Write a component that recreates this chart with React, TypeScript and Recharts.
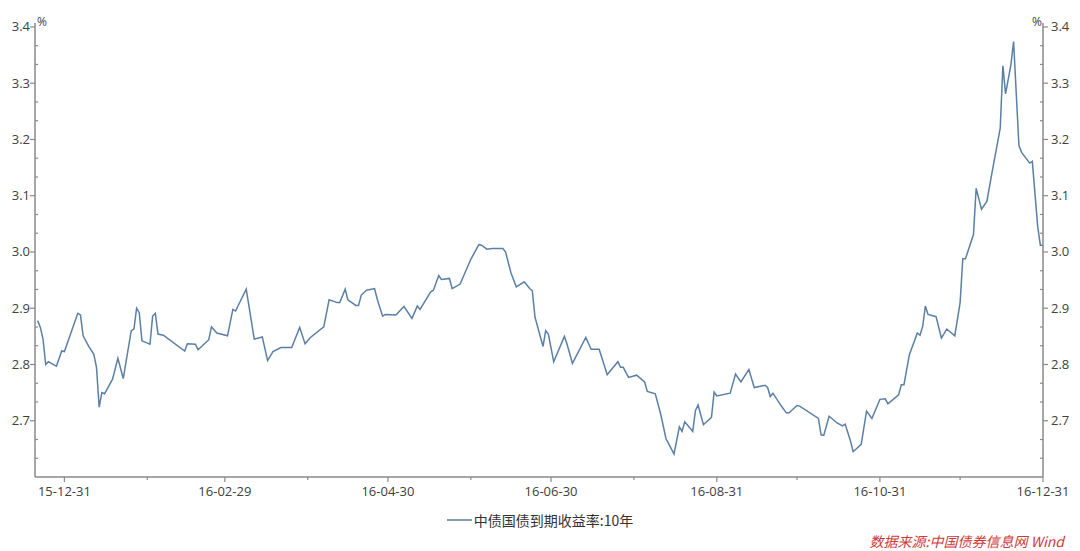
import { LineChart, Line, XAxis, YAxis, Legend } from 'recharts'

// 10Y China government bond yield (trading days, 2015-12-21 .. 2016-12-31)
const dates = [
  '2015-12-21', '2015-12-22', '2015-12-23', '2015-12-24', '2015-12-25', '2015-12-28', '2015-12-30', '2015-12-31',
  '2016-01-05', '2016-01-06', '2016-01-07', '2016-01-09', '2016-01-11', '2016-01-12', '2016-01-13', '2016-01-14',
  '2016-01-15', '2016-01-18', '2016-01-20', '2016-01-22', '2016-01-25', '2016-01-26', '2016-01-27', '2016-01-28',
  '2016-01-29', '2016-02-01', '2016-02-02', '2016-02-03', '2016-02-04', '2016-02-06', '2016-02-14', '2016-02-15',
  '2016-02-18', '2016-02-19', '2016-02-23', '2016-02-24', '2016-02-26', '2016-03-01', '2016-03-03', '2016-03-04',
  '2016-03-08', '2016-03-11', '2016-03-14', '2016-03-16', '2016-03-18', '2016-03-21', '2016-03-25', '2016-03-28',
  '2016-03-30', '2016-04-01', '2016-04-06', '2016-04-08', '2016-04-11', '2016-04-12', '2016-04-14', '2016-04-15',
  '2016-04-18', '2016-04-19', '2016-04-20', '2016-04-22', '2016-04-25', '2016-04-26', '2016-04-28', '2016-04-29',
  '2016-05-03', '2016-05-06', '2016-05-09', '2016-05-11', '2016-05-12', '2016-05-16', '2016-05-17', '2016-05-19',
  '2016-05-20', '2016-05-23', '2016-05-24', '2016-05-27', '2016-05-31', '2016-06-03', '2016-06-04', '2016-06-06',
  '2016-06-08', '2016-06-12', '2016-06-13', '2016-06-15', '2016-06-17', '2016-06-20', '2016-06-22', '2016-06-23',
  '2016-06-24', '2016-06-27', '2016-06-28', '2016-06-29', '2016-07-01', '2016-07-05', '2016-07-06', '2016-07-08',
  '2016-07-13', '2016-07-15', '2016-07-18', '2016-07-21', '2016-07-25', '2016-07-26', '2016-07-27', '2016-07-29',
  '2016-08-01', '2016-08-04', '2016-08-05', '2016-08-08', '2016-08-10', '2016-08-12', '2016-08-15', '2016-08-17',
  '2016-08-18', '2016-08-19', '2016-08-22', '2016-08-23', '2016-08-24', '2016-08-26', '2016-08-29', '2016-08-30',
  '2016-08-31', '2016-09-05', '2016-09-07', '2016-09-09', '2016-09-12', '2016-09-14', '2016-09-18', '2016-09-19',
  '2016-09-20', '2016-09-21', '2016-09-24', '2016-09-26', '2016-09-27', '2016-09-30', '2016-10-01', '2016-10-08',
  '2016-10-09', '2016-10-10', '2016-10-12', '2016-10-15', '2016-10-17', '2016-10-18', '2016-10-20', '2016-10-21',
  '2016-10-24', '2016-10-26', '2016-10-28', '2016-10-31', '2016-11-02', '2016-11-03', '2016-11-07', '2016-11-08',
  '2016-11-09', '2016-11-11', '2016-11-14', '2016-11-15', '2016-11-16', '2016-11-17', '2016-11-18', '2016-11-21',
  '2016-11-23', '2016-11-25', '2016-11-28', '2016-11-30', '2016-12-01', '2016-12-02', '2016-12-05', '2016-12-06',
  '2016-12-08', '2016-12-10', '2016-12-12', '2016-12-15', '2016-12-16', '2016-12-17', '2016-12-19', '2016-12-20',
  '2016-12-22', '2016-12-23', '2016-12-26', '2016-12-27', '2016-12-29', '2016-12-30', '2016-12-31',
]

const yields = [
  2.878, 2.866, 2.845, 2.800, 2.805, 2.797, 2.824, 2.823,
  2.891, 2.888, 2.851, 2.833, 2.818, 2.795, 2.724, 2.750,
  2.748, 2.774, 2.811, 2.775, 2.860, 2.863, 2.900, 2.892,
  2.842, 2.836, 2.886, 2.891, 2.854, 2.852, 2.824, 2.837,
  2.836, 2.826, 2.844, 2.867, 2.856, 2.851, 2.898, 2.895,
  2.934, 2.845, 2.849, 2.807, 2.823, 2.830, 2.830, 2.866,
  2.837, 2.848, 2.867, 2.915, 2.910, 2.910, 2.934, 2.915,
  2.905, 2.905, 2.923, 2.932, 2.935, 2.916, 2.886, 2.889,
  2.888, 2.903, 2.882, 2.904, 2.898, 2.929, 2.932, 2.958,
  2.951, 2.953, 2.935, 2.943, 2.987, 3.013, 3.012, 3.005,
  3.006, 3.006, 3.000, 2.963, 2.938, 2.947, 2.935, 2.931,
  2.884, 2.832, 2.860, 2.854, 2.805, 2.850, 2.836, 2.802,
  2.848, 2.827, 2.827, 2.782, 2.805, 2.795, 2.795, 2.777,
  2.781, 2.769, 2.752, 2.748, 2.712, 2.668, 2.641, 2.689,
  2.681, 2.698, 2.681, 2.718, 2.728, 2.693, 2.706, 2.751,
  2.744, 2.749, 2.783, 2.769, 2.791, 2.759, 2.763, 2.759,
  2.743, 2.749, 2.727, 2.714, 2.714, 2.727, 2.726, 2.704,
  2.675, 2.674, 2.708, 2.696, 2.691, 2.694, 2.664, 2.645,
  2.658, 2.717, 2.704, 2.738, 2.739, 2.730, 2.746, 2.764,
  2.764, 2.817, 2.856, 2.852, 2.868, 2.904, 2.889, 2.885,
  2.847, 2.863, 2.851, 2.910, 2.988, 2.988, 3.031, 3.113,
  3.076, 3.090, 3.143, 3.220, 3.331, 3.281, 3.333, 3.374,
  3.189, 3.177, 3.158, 3.161, 3.046, 3.012, 3.012,
]

const xMajorDates = ['2015-12-31', '2016-02-29', '2016-04-30', '2016-06-30', '2016-08-31', '2016-10-31', '2016-12-31']
const xMinorDates = ['2016-01-31', '2016-03-31', '2016-05-31', '2016-07-31', '2016-09-30', '2016-11-30']
const yMajorTicks = [2.7, 2.8, 2.9, 3.0, 3.1, 3.2, 3.3, 3.4]

const seriesName = '中债国债到期收益率:10年'
const unitLabel = '%'
const sourceText = '数据来源:中国债券信息网 Wind'

const ORIGIN = Date.parse('2015-12-31')
const toDay = (d: string) => Math.round((Date.parse(d) - ORIGIN) / 86400000)

const data = dates.map((d, i) => ({ day: toDay(d), value: yields[i] }))

const xMajorDays = xMajorDates.map(toDay)
const xTicks = [...xMajorDays, ...xMinorDates.map(toDay)].sort((a, b) => a - b)
const xLabel = (day: number) => {
  const i = xMajorDays.indexOf(day)
  return i < 0 ? '' : xMajorDates[i].slice(2)
}

const yTicks = yMajorTicks.flatMap((v) => [v - 2 / 30, v - 1 / 30, v])
const isMajorY = (v: number) => yMajorTicks.some((m) => Math.abs(m - v) < 1e-6)

const AXIS = '#8a8a8a'
const TEXT = '#404040'
const LINE = '#5b7fa5'
const FONT = '"Open Sans", "Noto Sans", sans-serif'

function XTick(props: any) {
  const { x, y, payload } = props
  const label = xLabel(payload.value)
  return (
    <g>
      <line x1={x} y1={y} x2={x} y2={y + (label ? 5 : 3)} stroke={AXIS} strokeWidth={1.2} />
      {label && (
        <text x={x} y={y + 19} textAnchor="middle" fontSize={13} fill={TEXT} fontFamily={FONT}>
          {label}
        </text>
      )}
    </g>
  )
}

function YTick(props: any) {
  const { x, y, payload, side } = props
  const major = isMajorY(payload.value)
  const dir = side === 'left' ? -1 : 1
  const len = major ? 5 * dir : -3 * dir
  return (
    <g>
      <line x1={x} y1={y} x2={x + len} y2={y} stroke={AXIS} strokeWidth={1.2} />
      {major && (
        <text
          x={side === 'left' ? x - 5 : x + 8}
          y={y + 4.5}
          textAnchor={side === 'left' ? 'end' : 'start'}
          fontSize={13}
          fill={TEXT}
          fontFamily={FONT}
        >
          {payload.value.toFixed(1)}
        </text>
      )}
    </g>
  )
}

const pctLabel = (side: 'left' | 'right') => (p: any) => {
  const vb = p.viewBox
  const x = side === 'left' ? vb.x + vb.width + 2 : vb.x - 1
  return (
    <text x={x} y={vb.y + 3} textAnchor={side === 'left' ? 'start' : 'end'} fontSize={12} fill={TEXT} fontFamily={FONT}>
      {unitLabel}
    </text>
  )
}

function LegendBox({ payload }: any) {
  return (
    <div style={{ display: 'flex', justifyContent: 'center', alignItems: 'center', height: 22 }}>
      {(payload || []).map((item: any) => (
        <div key={item.value} style={{ display: 'flex', alignItems: 'center' }}>
          <svg width={26} height={10}>
            <line x1={0} y1={5} x2={25} y2={5} stroke={LINE} strokeWidth={1.5} />
          </svg>
          <span style={{ fontSize: 14, color: '#333', fontFamily: '"Noto Sans CJK SC", sans-serif', marginLeft: 1 }}>
            {item.value}
          </span>
        </div>
      ))}
    </div>
  )
}

export default function App() {
  return (
    <div style={{ position: 'absolute', left: 0, top: 0, width: 1080, height: 551, background: '#fff' }}>
      <LineChart width={1080} height={551} data={data} margin={{ top: 23, right: 0, bottom: 20, left: 0 }}>
        <XAxis
          dataKey="day"
          type="number"
          domain={[-11, 366]}
          ticks={xTicks}
          interval={0}
          allowDataOverflow
          height={32}
          tickSize={0}
          tickMargin={0}
          tickLine={false}
          axisLine={{ stroke: AXIS, strokeWidth: 1.5 }}
          tick={<XTick />}
        />
        <YAxis
          yAxisId="left"
          orientation="left"
          type="number"
          domain={[2.6, 3.407]}
          ticks={yTicks}
          interval={0}
          allowDataOverflow
          width={35}
          tickSize={0}
          tickMargin={0}
          tickLine={false}
          axisLine={{ stroke: AXIS, strokeWidth: 1.5 }}
          tick={<YTick side="left" />}
          label={pctLabel('left')}
        />
        <YAxis
          yAxisId="right"
          orientation="right"
          type="number"
          domain={[2.6, 3.407]}
          ticks={yTicks}
          interval={0}
          allowDataOverflow
          width={37}
          tickSize={0}
          tickMargin={0}
          tickLine={false}
          axisLine={{ stroke: AXIS, strokeWidth: 1.5 }}
          tick={<YTick side="right" />}
          label={pctLabel('right')}
        />
        <Legend verticalAlign="bottom" align="center" height={22} content={<LegendBox />} />
        <Line
          yAxisId="left"
          name={seriesName}
          type="linear"
          dataKey="value"
          stroke={LINE}
          strokeWidth={1.5}
          dot={false}
          activeDot={false}
          isAnimationActive={false}
        />
      </LineChart>
      <div
        style={{
          position: 'absolute',
          right: 16,
          top: 533,
          fontSize: 14,
          lineHeight: '16px',
          fontStyle: 'italic',
          color: '#cf3a3a',
          fontFamily: '"Noto Sans CJK SC", sans-serif',
          whiteSpace: 'nowrap',
        }}
      >
        {sourceText}
      </div>
    </div>
  )
}
